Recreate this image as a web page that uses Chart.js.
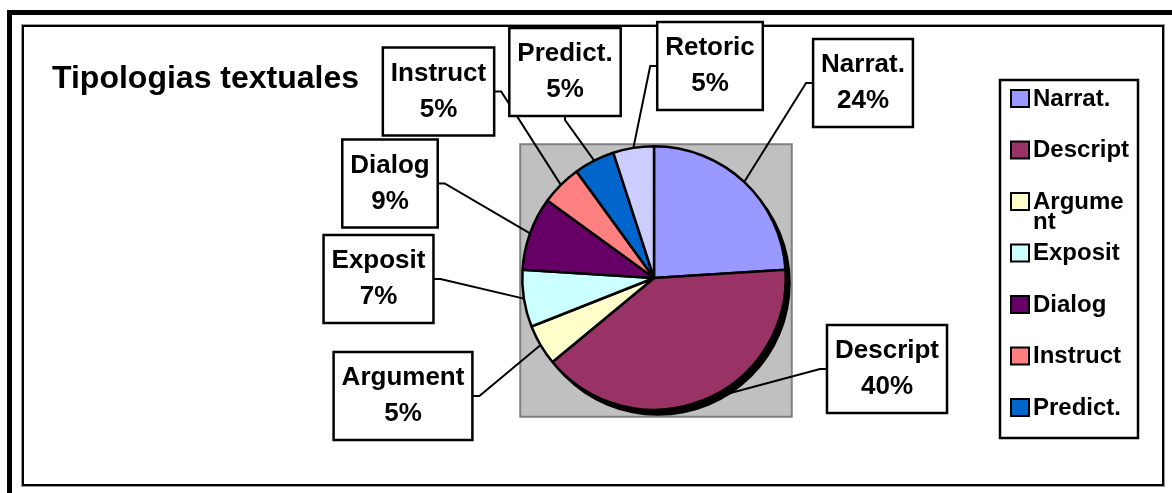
<!DOCTYPE html>
<html>
<head>
<meta charset="utf-8">
<script src="https://cdn.jsdelivr.net/npm/chart.js@4"></script>
<style>
  html, body { margin: 0; padding: 0; background: #fff; }
  #wrap { width: 1172px; height: 493px; }
</style>
</head>
<body>
<div id="wrap"><canvas id="chart" width="1172" height="493"></canvas></div>
<script>
const chartTitle = 'Tipologias textuales';
const categories = ['Narrat.', 'Descript', 'Argument', 'Exposit', 'Dialog', 'Instruct', 'Predict.', 'Retoric'];
const shares = [24, 40, 5, 7, 9, 5, 5, 5];
const colors = ['#9999FF', '#993366', '#FFFFCC', '#CCFFFF', '#660066', '#FF8080', '#0066CC', '#CCCCFF'];

// label boxes were dragged around by hand in the original, offset of box centre from pie centre
const labelOffsets = [[209, -195], [233, 91], [-251, 118], [-275.5, 1], [-264, -94.5], [-215.5, -186.5], [-89, -206], [56, -212]];

const FONT = '"Liberation Sans", Arial, Helvetica, sans-serif';
const total = shares.reduce((a, b) => a + b, 0);

function wrapChars(ctx, text, maxW) {
    let lines = [], cur = '';
    for (const ch of text) {
        if (cur && ctx.measureText(cur + ch).width > maxW) {
            lines.push(cur);
            cur = ch;
        } else cur += ch;
    }
    if (cur) lines.push(cur);
    return lines;
}

const excelLook = {
    id: 'excelLook',
    beforeDraw: function (chart) {
        const ctx = chart.ctx;
        ctx.save();
        ctx.fillStyle = '#fff';
        ctx.fillRect(0, 0, chart.width, chart.height);
        // outer frame, only top and left edges are inside the picture
        ctx.fillStyle = '#000';
        ctx.fillRect(7, 10, chart.width - 7, 5);
        ctx.fillRect(7, 10, 5, chart.height - 10);
        // chart area frame
        ctx.strokeStyle = '#9a9a9a';
        ctx.lineWidth = 1;
        ctx.strokeRect(21.5, 24.5, 1143, 462);
        ctx.strokeStyle = '#000';
        ctx.lineWidth = 2;
        ctx.strokeRect(23, 26, 1140, 459);
        ctx.restore();
    },
    beforeDatasetsDraw: function (chart) {
        const ctx = chart.ctx;
        const arc = chart.getDatasetMeta(0).data[0];
        if (!arc) return;
        const cx = arc.x, cy = arc.y, r = arc.outerRadius;
        ctx.save();
        // grey plot area
        ctx.fillStyle = '#C0C0C0';
        ctx.fillRect(cx - r - 2, cy - r - 2, 2 * r + 8, 2 * r + 9);
        ctx.strokeStyle = '#808080';
        ctx.lineWidth = 2;
        ctx.strokeRect(cx - r - 2, cy - r - 2, 2 * r + 8, 2 * r + 9);
        // pie shadow
        ctx.fillStyle = '#000';
        ctx.beginPath();
        ctx.arc(cx + 4, cy + 5, r + 1, 0, Math.PI * 2);
        ctx.fill();
        ctx.restore();
    },
    afterDatasetsDraw: function (chart) {
        const ctx = chart.ctx;
        const meta = chart.getDatasetMeta(0);
        const first = meta.data[0];
        const cx = first.x, cy = first.y;
        ctx.save();

        // data labels with leader lines
        ctx.font = 'bold 26px ' + FONT;
        ctx.textAlign = 'center';
        ctx.textBaseline = 'middle';
        meta.data.forEach((arc, i) => {
            const mid = (arc.startAngle + arc.endAngle) / 2;
            const px = cx + Math.cos(mid) * arc.outerRadius;
            const py = cy + Math.sin(mid) * arc.outerRadius;
            const bx = cx + labelOffsets[i][0], by = cy + labelOffsets[i][1];
            const pct = Math.round(shares[i] / total * 100) + '%';
            const w = Math.max(ctx.measureText(categories[i]).width, ctx.measureText(pct).width) + 16;
            const h = 88;
            const left = bx - w / 2, right = bx + w / 2, top = by - h / 2, bottom = by + h / 2;
            let ax, ay, sx, sy;
            if (px < left) { ax = left; ay = by; sx = ax - 7; sy = ay; }
            else if (px > right) { ax = right; ay = by; sx = ax + 7; sy = ay; }
            else { ax = bx; ay = bottom; sx = ax; sy = ay + 4; }
            ctx.strokeStyle = '#000';
            ctx.lineWidth = 2;
            ctx.beginPath();
            ctx.moveTo(ax, ay);
            ctx.lineTo(sx, sy);
            ctx.lineTo(px, py);
            ctx.stroke();
            ctx.fillStyle = '#fff';
            ctx.fillRect(left, top, w, h);
            ctx.lineWidth = 2.5;
            ctx.strokeRect(left, top, w, h);
            ctx.fillStyle = '#000';
            ctx.fillText(categories[i], bx, by - 18);
            ctx.fillText(pct, bx, by + 18);
        });

        // legend
        const lx = 1000, ly = 80, lw = 138, lh = 358;
        ctx.fillStyle = '#fff';
        ctx.fillRect(lx, ly, lw, lh);
        ctx.strokeStyle = '#000';
        ctx.lineWidth = 2.5;
        ctx.strokeRect(lx, ly, lw, lh);
        ctx.lineWidth = 2;
        ctx.font = 'bold 24px ' + FONT;
        ctx.textAlign = 'left';
        const textX = lx + 33;
        categories.forEach((name, i) => {
            const iy = ly + 18 + i * 51.5;
            if (iy + 9 > ly + lh) return;
            ctx.fillStyle = colors[i];
            ctx.fillRect(lx + 11, iy - 8, 18, 17);
            ctx.strokeRect(lx + 11, iy - 8, 18, 17);
            ctx.fillStyle = '#000';
            wrapChars(ctx, name, lx + lw - textX - 4).forEach((line, k) => {
                ctx.fillText(line, textX, iy + 1 + k * 20);
            });
        });

        // title
        ctx.font = 'bold 32px ' + FONT;
        ctx.textBaseline = 'alphabetic';
        ctx.fillText(chartTitle, 52, 88);
        ctx.restore();
    }
};

new Chart(document.getElementById('chart'), {
    type: 'pie',
    data: {
        labels: categories,
        datasets: [{
            data: shares,
            backgroundColor: colors,
            borderColor: '#000',
            borderWidth: 2.5
        }]
    },
    options: {
        responsive: false,
        animation: false,
        layout: { padding: { left: 521, top: 145, right: 385, bottom: 82 } },
        plugins: {
            legend: { display: false },
            title: { display: false },
            tooltip: { enabled: false }
        }
    },
    plugins: [excelLook]
});
</script>
</body>
</html>
